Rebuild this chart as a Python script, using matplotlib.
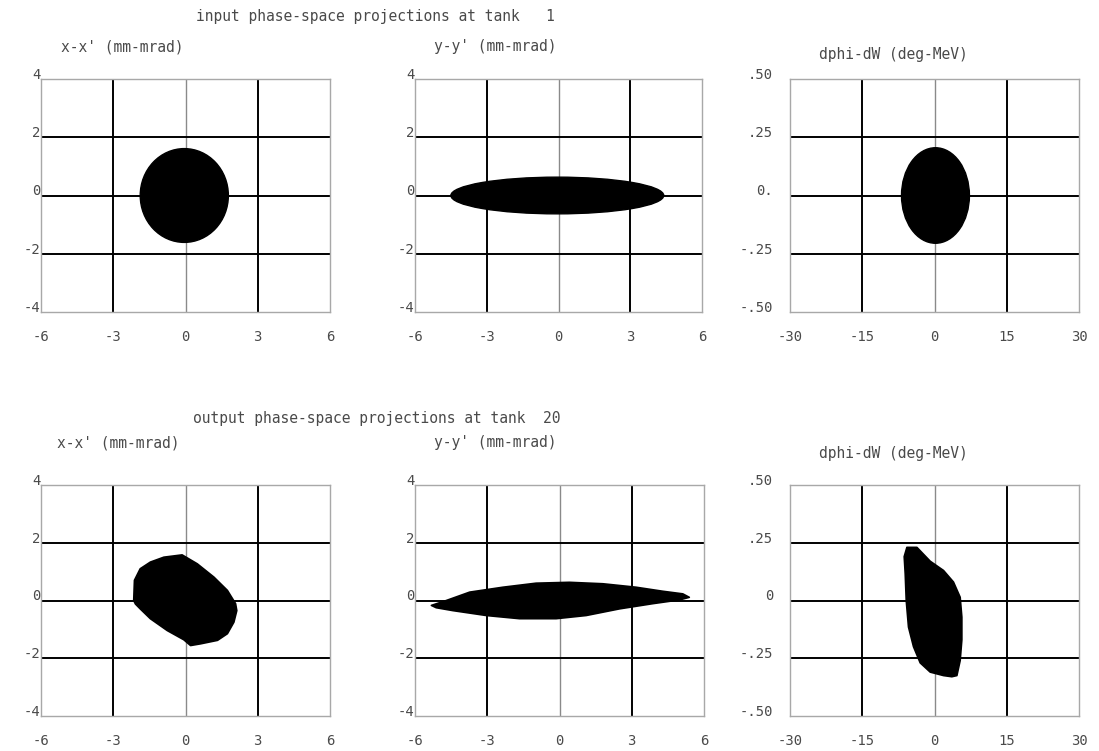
import matplotlib.pyplot as plt
from matplotlib.patches import Ellipse, Polygon
from matplotlib.transforms import ScaledTranslation

# tick values and labels
xy_ticks_x = [-6, -3, 0, 3, 6]
xy_ticks_y = [-4, -2, 0, 2, 4]
xy_labels_x = ["-6", "-3", "0", "3", "6"]
xy_labels_y = ["-4", "-2", "0", "2", "4"]
pw_ticks_x = [-30, -15, 0, 15, 30]
pw_ticks_y = [-0.5, -0.25, 0, 0.25, 0.5]
pw_labels_x = ["-30", "-15", "0", "15", "30"]
pw_labels_y_in = ["-.50", "-.25", "0.", ".25", ".50"]
pw_labels_y_out = ["-.50", "-.25", "0", ".25", ".50"]

# input beam at tank 1: centre x, centre y, semi-axis x, semi-axis y
in_xx = (-0.05, 0.0, 1.83, 1.61)
in_yy = (-0.05, 0.0, 4.45, 0.63)
in_pw = (0.2, 0.0, 7.05, 0.205)

# output beam at tank 20: outlines of the particle clouds
out_xx_x = [-2.15, -2.12, -1.88, -1.46, -0.90, -0.14, 0.49, 1.18, 1.74, 2.08,
            2.13, 2.01, 1.74, 1.33, 0.63, 0.21, -0.07, -0.76, -1.46, -1.88, -2.08]
out_xx_y = [0.0, 0.70, 1.10, 1.33, 1.50, 1.58, 1.27, 0.81, 0.35, -0.11,
            -0.35, -0.75, -1.15, -1.38, -1.50, -1.56, -1.36, -1.04, -0.63, -0.29, -0.12]

out_yy_x = [-5.32, -4.70, -3.73, -2.35, -0.97, 0.41, 1.80, 3.18, 4.29, 5.12, 5.39,
            4.98, 3.87, 2.49, 1.11, -0.14, -1.66, -3.04, -4.43, -5.12]
out_yy_y = [-0.17, 0.0, 0.29, 0.46, 0.60, 0.63, 0.58, 0.46, 0.32, 0.23, 0.11,
            0.02, -0.11, -0.29, -0.52, -0.63, -0.63, -0.52, -0.35, -0.25]

out_pw_x = [-5.73, -3.65, -0.89, 1.87, 3.94, 5.33, 5.68, 5.68, 5.33, 4.65, 3.60,
            1.87, -0.89, -2.97, -4.36, -5.40, -5.87, -6.08, -6.29]
out_pw_y = [0.23, 0.23, 0.17, 0.13, 0.08, 0.014, -0.072, -0.17, -0.26, -0.325, -0.33,
            -0.325, -0.31, -0.27, -0.20, -0.115, 0.0, 0.115, 0.19]

plt.rcParams['font.family'] = 'DejaVu Sans Mono'
fig = plt.figure(figsize=(10.99, 7.51), dpi=100)
txt = "#4a4a4a"


def px(x, y):
    # pixel position (from top-left) to figure fraction
    return x / 1099, 1 - y / 751


def make_axes(left, top, right, bottom, xt, yt, xl, yl, ypad):
    x0, y0 = px(left, bottom)
    x1, y1 = px(right, top)
    ax = fig.add_axes([x0, y0, x1 - x0, y1 - y0])
    ax.set_xlim(xt[0], xt[-1])
    ax.set_ylim(yt[0], yt[-1])
    ax.set_xticks(xt)
    ax.set_xticklabels(xl)
    ax.set_yticks(yt)
    ax.set_yticklabels(yl)
    ax.tick_params(length=0, labelsize=10, labelcolor=txt)
    ax.tick_params(axis='x', pad=13)
    ax.tick_params(axis='y', pad=ypad)
    shift = ScaledTranslation(0, 4 / 72, fig.dpi_scale_trans)
    for lab in ax.get_yticklabels():
        lab.set_transform(lab.get_transform() + shift)
    for s in ax.spines.values():
        s.set_color("#a8a8a8")
        s.set_linewidth(1)
    for v in xt[1:-1]:
        if v == 0:
            ax.axvline(v, color="#8a8a8a", lw=1, zorder=1)
        else:
            ax.axvline(v, color="black", lw=1.4, zorder=1)
    for v in yt[1:-1]:
        ax.axhline(v, color="black", lw=1.4, zorder=1)
    return ax


def draw_ellipse(ax, e):
    cx, cy, a, b = e
    ax.add_patch(Ellipse((cx, cy), 2 * a, 2 * b, facecolor="black",
                         edgecolor="black", lw=1, zorder=3))


def draw_cloud(ax, xs, ys):
    ax.add_patch(Polygon(list(zip(xs, ys)), closed=True, facecolor="black",
                         edgecolor="black", lw=1.2, joinstyle="round", zorder=3))


# input row
ax1 = make_axes(41, 79, 330, 312, xy_ticks_x, xy_ticks_y, xy_labels_x, xy_labels_y, 0.5)
ax2 = make_axes(415, 79, 702, 312, xy_ticks_x, xy_ticks_y, xy_labels_x, xy_labels_y, 0.5)
ax3 = make_axes(790, 79, 1079, 312, pw_ticks_x, pw_ticks_y, pw_labels_x, pw_labels_y_in, 12)
draw_ellipse(ax1, in_xx)
draw_ellipse(ax2, in_yy)
draw_ellipse(ax3, in_pw)

# output row
ax4 = make_axes(41, 485, 330, 716, xy_ticks_x, xy_ticks_y, xy_labels_x, xy_labels_y, 0.5)
ax5 = make_axes(415, 485, 704, 716, xy_ticks_x, xy_ticks_y, xy_labels_x, xy_labels_y, 0.5)
ax6 = make_axes(790, 485, 1079, 716, pw_ticks_x, pw_ticks_y, pw_labels_x, pw_labels_y_out, 12)
draw_cloud(ax4, out_xx_x, out_xx_y)
draw_cloud(ax5, out_yy_x, out_yy_y)
draw_cloud(ax6, out_pw_x, out_pw_y)

fig.text(*px(375, 16), "input phase-space projections at tank   1",
         fontsize=10.5, color=txt, ha="center", va="center")
fig.text(*px(377, 418), "output phase-space projections at tank  20",
         fontsize=10.5, color=txt, ha="center", va="center")

for x, y, s in [(122, 47, "x-x' (mm-mrad)"), (495, 47, "y-y' (mm-mrad)"),
                (893, 54, "dphi-dW (deg-MeV)"),
                (118, 443, "x-x' (mm-mrad)"), (495, 443, "y-y' (mm-mrad)"),
                (893, 453, "dphi-dW (deg-MeV)")]:
    fig.text(*px(x, y), s, fontsize=10.5, color=txt, ha="center", va="center")

fig.savefig("out.png", dpi=100)
